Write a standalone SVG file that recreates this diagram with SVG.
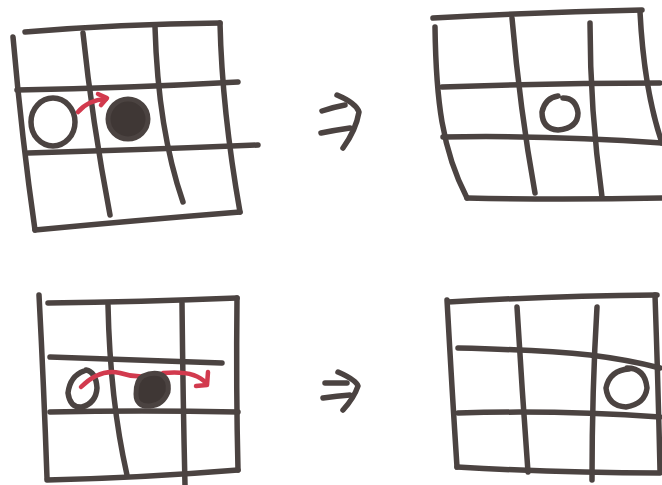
<svg xmlns="http://www.w3.org/2000/svg" width="662" height="485" viewBox="0 0 662 485">
<style>
.ln{fill:none;stroke:#4b4341;stroke-width:5.5;stroke-linecap:round;stroke-linejoin:round}
.rd{fill:none;stroke:#d23a4e;stroke-width:4.5;stroke-linecap:round;stroke-linejoin:round}
.blk{fill:#3f3735;stroke:#4b4341;stroke-width:5}
</style>
<rect width="662" height="485" fill="#ffffff"/>
<g id="grid-top-left">
<path class="ln" d="M25 32 Q120 24 220 23"/>
<path class="ln" d="M13 37 Q22 140 35 230"/>
<path class="ln" d="M220 23 Q222 110 240 212"/>
<path class="ln" d="M35 230 Q140 220 240 212"/>
<path class="ln" d="M17 90 Q130 88 238 82"/>
<path class="ln" d="M28 153 Q140 150 258 145"/>
<path class="ln" d="M83 33 Q92 120 110 215"/>
<path class="ln" d="M155 27 Q158 130 183 202"/>
<ellipse class="ln" cx="53" cy="122" rx="22" ry="24"/>
<circle class="blk" cx="128" cy="119" r="20"/>
<path class="rd" d="M78 112 Q88 100 106 99"/>
<path class="rd" d="M98 94 L107 98 L101 105"/>
</g>
<g id="grid-top-right">
<path class="ln" d="M433 18 Q540 12 642 10"/>
<path class="ln" d="M435 27 C436 100 442 150 467 198"/>
<path class="ln" d="M640 12 Q644 90 662 143"/>
<path class="ln" d="M467 198 Q560 200 662 198"/>
<path class="ln" d="M442 87 Q550 83 660 83"/>
<path class="ln" d="M443 137 Q550 135 662 143"/>
<path class="ln" d="M512 18 Q520 110 535 193"/>
<path class="ln" d="M590 23 Q590 110 602 197"/>
<path class="ln" d="M558 96 Q545 98 542 112 Q542 129 558 130 Q578 128 578 113 Q576 98 563 98"/>
</g>
<g id="grid-bottom-left">
<path class="ln" d="M48 303 Q140 302 237 298"/>
<path class="ln" d="M39 295 Q44 390 47 478"/>
<path class="ln" d="M237 298 Q236 390 238 470"/>
<path class="ln" d="M47 480 Q140 478 238 470"/>
<path class="ln" d="M50 357 Q140 360 222 363"/>
<path class="ln" d="M50 412 Q140 410 238 412"/>
<path class="ln" d="M108 305 Q110 400 127 475"/>
<path class="ln" d="M182 303 Q183 400 185 485"/>
<path class="ln" d="M84 371 Q70 376 68 393 Q70 408 82 407 Q96 403 97 388 Q96 372 86 370"/>
<path class="rd" d="M81 387 Q100 368 120 373 Q135 378 150 376"/>
<path class="rd" d="M163 373 Q195 370 206 383"/>
<path class="rd" d="M196 386 L207 385 L208 372"/>
<path class="blk" d="M143 376 Q152 372 160 374 Q170 378 168 392 Q163 405 150 406 Q136 407 136 394 Q136 380 143 376 Z"/>
</g>
<g id="grid-bottom-right">
<path class="ln" d="M448 302 Q550 296 657 295"/>
<path class="ln" d="M447 300 Q452 390 457 467"/>
<path class="ln" d="M655 295 Q658 380 660 470"/>
<path class="ln" d="M457 467 Q560 473 660 473"/>
<path class="ln" d="M458 348 Q540 350 590 355 Q630 360 660 368"/>
<path class="ln" d="M458 413 Q560 410 660 417"/>
<path class="ln" d="M517 307 Q522 390 528 472"/>
<path class="ln" d="M597 307 Q592 390 592 480"/>
<path class="ln" d="M629 369 Q610 370 606 388 Q608 406 626 407 Q645 404 647 388 Q645 368 627 368"/>
</g>
<g id="arrow-top">
<path class="ln" d="M322 111 Q334 107 345 105"/>
<path class="ln" d="M321 133 Q336 130 350 128"/>
<path class="ln" d="M337 95 Q356 103 359 112 Q356 130 343 148"/>
</g>
<g id="arrow-bottom">
<path class="ln" d="M325 383 L347 383"/>
<path class="ln" d="M323 398 Q337 396 350 395"/>
<path class="ln" d="M338 372 Q356 380 358 386 Q354 398 343 410"/>
</g>
</svg>
